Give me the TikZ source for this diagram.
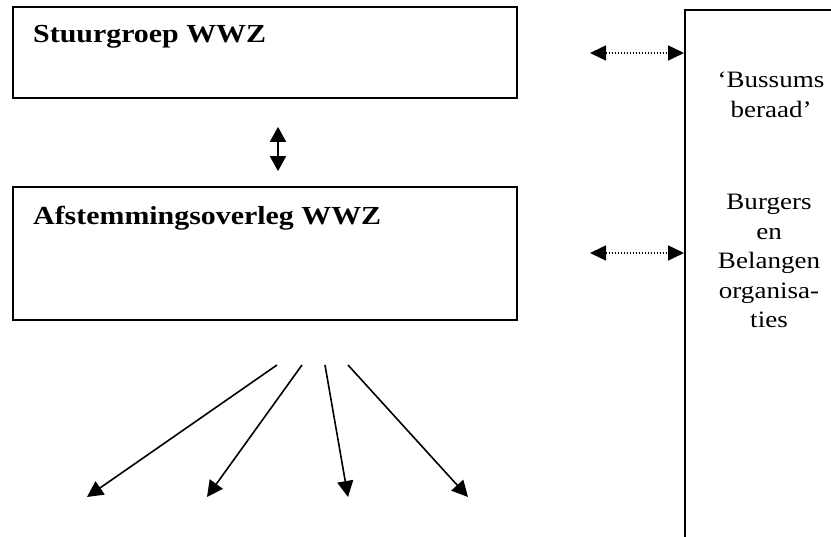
\documentclass[tikz,border=0pt]{standalone}
\usepackage{fontspec}
\setmainfont[FakeStretch=1.15]{Liberation Serif}
\usetikzlibrary{arrows.meta,positioning}
\tikzset{
  box/.style={draw, line width=1.7pt, minimum width=504pt, inner sep=0pt},
  kop/.style={anchor=base west, inner sep=0pt, font=\fontsize{26}{30}\selectfont\bfseries},
  zij/.style={anchor=north, inner sep=0pt, align=center, font=\fontsize{23.5}{29.5}\selectfont},
  pijl/.style={line width=1.6pt, -{Triangle[length=16pt,width=16pt]}},
  tweepijl/.style={line width=1.6pt, {Triangle[length=15pt,width=16pt]}-{Triangle[length=15pt,width=16pt]}},
  stip/.style={line width=1.5pt, dash pattern=on 1.4pt off 1.6pt,
    {Triangle[length=16pt,width=15pt]}-{Triangle[length=16pt,width=15pt]}}
}

\begin{document}
\begin{tikzpicture}[x=1pt,y=-1pt]
  \useasboundingbox (0,0) rectangle (831,537);

  %% boxes
  \node[box, minimum height=91pt] (stuur) at (265,52.5) {};
  \node[box, minimum height=133pt] (afstem) at (265,253.5) {};
  \node[kop] (stuurtxt) at (33,43) {Stuurgroep WWZ};
  \node[kop] (afstemtxt) at (33,225) {Afstemmingsoverleg WWZ};

  \draw[tweepijl, shorten <=28pt, shorten >=15pt] ([xshift=13pt]stuur.south) -- ([xshift=13pt]afstem.north);

  %% right panel
  \node[draw, line width=1.7pt, anchor=north west, minimum width=250pt, minimum height=600pt] (panel) at (684,9) {};
  \node[zij] (beraad) at (771,72) {‘Bussums\\beraad’};
  \node[zij] (burgers) at (769,194) {Burgers\\en\\Belangen\\organisa-\\ties};

  \coordinate (bus) at (590,53);
  \coordinate (burg) at (590,253);
  \draw[stip] (bus) -- (bus -| panel.west);
  \draw[stip] (burg) -- (burg -| panel.west);

  %% fan
  \foreach \i/\s/\e in {1/277/87, 2/302/207, 3/325/348, 4/348/468} {
    \coordinate (van\i) at (\s,365);
    \coordinate (naar\i) at (\e,497);
    \draw[pijl] (van\i) -- (naar\i);
  }
\end{tikzpicture}
\end{document}
